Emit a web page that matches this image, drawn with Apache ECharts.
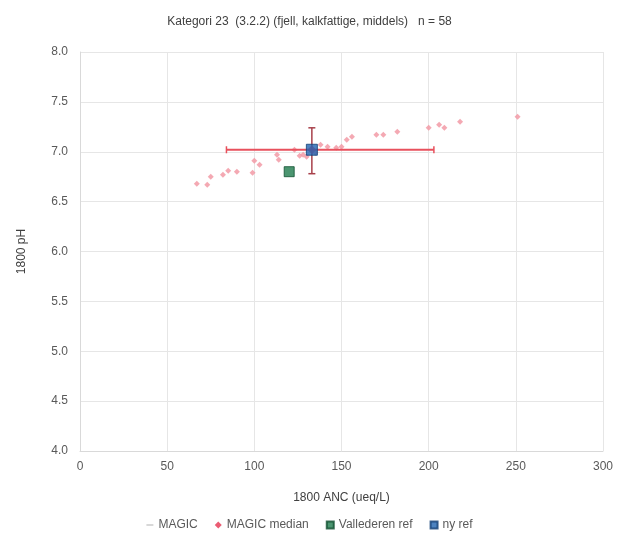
<!DOCTYPE html>
<html>
<head>
<meta charset="utf-8">
<script src="https://cdn.jsdelivr.net/npm/echarts@6/dist/echarts.min.js"></script>
<style>
    html, body { margin: 0; padding: 0; background: #fff; }
    #chart { width: 619px; height: 541px; }
</style>
</head>
<body>
<div id="chart"></div>
<script>
// MAGIC-punkter (ANC, pH)
var magicPoints = [
    [67, 6.68], [73, 6.67], [75, 6.75], [82, 6.77], [85, 6.81], [90, 6.80],
    [99, 6.79], [100, 6.91], [103, 6.87], [113, 6.97], [114, 6.92], [123, 7.02],
    [126, 6.96], [128, 6.97], [130, 6.95], [135, 6.99], [138, 7.07], [142, 7.05],
    [147, 7.04], [150, 7.05], [153, 7.12], [156, 7.15], [170, 7.17], [174, 7.17],
    [182, 7.20], [200, 7.24], [206, 7.27], [209, 7.24], [218, 7.30], [251, 7.35]
];
var magicMedian = [[133, 7.02]];
var medianAncRange = [84, 203];   // horisontal feilstolpe
var medianPhRange = [6.78, 7.24]; // vertikal feilstolpe
var vallederenRef = [[120, 6.80]];
var nyRef = [[133, 7.02]];

var chart = echarts.init(document.getElementById('chart'));

var option = {
    animation: false,
    textStyle: { fontFamily: 'Liberation Sans, Arial, sans-serif' },
    title: {
        text: 'Kategori 23  (3.2.2) (fjell, kalkfattige, middels)   n = 58',
        left: 'center',
        top: 11,
        textStyle: { fontSize: 12, fontWeight: 'normal', color: '#404040' }
    },
    legend: {
        bottom: 5,
        left: 'center',
        itemWidth: 7,
        itemHeight: 7,
        itemGap: 17,
        textStyle: { fontSize: 12, color: '#595959' },
        data: [
            { name: 'MAGIC', icon: 'path://M0,4h10v2h-10z', itemStyle: { color: '#c8c8c8' } },
            { name: 'MAGIC median', icon: 'diamond', itemStyle: { color: '#e8405a' } },
            { name: 'Vallederen ref', icon: 'rect' },
            { name: 'ny ref', icon: 'rect' }
        ]
    },
    grid: { left: 80, right: 16, top: 52, bottom: 90 },
    xAxis: {
        type: 'value',
        min: 0,
        max: 300,
        interval: 50,
        name: '1800 ANC (ueq/L)',
        nameLocation: 'middle',
        nameGap: 41,
        nameTextStyle: { fontSize: 12, color: '#404040' },
        axisLine: { show: true, lineStyle: { color: '#d9d9d9' } },
        axisTick: { show: false },
        axisLabel: { fontSize: 12, color: '#595959', margin: 10 },
        splitLine: { show: true, lineStyle: { color: '#e6e6e6' } }
    },
    yAxis: {
        type: 'value',
        min: 4,
        max: 8,
        interval: 0.5,
        name: '1800 pH',
        nameLocation: 'middle',
        nameGap: 52,
        nameTextStyle: { fontSize: 12, color: '#404040' },
        axisLine: { show: true, lineStyle: { color: '#d9d9d9' } },
        axisTick: { show: false },
        axisLabel: {
            fontSize: 12, color: '#595959', margin: 12,
            formatter: function (v) { return v.toFixed(1); }
        },
        splitLine: { show: true, lineStyle: { color: '#e6e6e6' } }
    },
    series: [
        {
            name: 'MAGIC median',
            type: 'scatter',
            data: magicPoints,
            symbol: 'diamond',
            symbolSize: 6,
            itemStyle: { color: '#f29aa6', opacity: 0.85 },
            z: 2
        },
        {
            name: 'MAGIC',
            type: 'line',
            data: [[medianAncRange[0], magicMedian[0][1]], [medianAncRange[1], magicMedian[0][1]]],
            symbol: 'rect',
            symbolSize: [1.5, 7],
            showSymbol: true,
            lineStyle: { color: '#e8505c', width: 2 },
            itemStyle: { color: '#e8505c' },
            z: 3
        },
        {
            name: 'MAGIC',
            type: 'line',
            data: [[magicMedian[0][0], medianPhRange[0]], [magicMedian[0][0], medianPhRange[1]]],
            symbol: 'rect',
            symbolSize: [7, 1.5],
            lineStyle: { color: '#a8404a', width: 1.5 },
            itemStyle: { color: '#a8404a' },
            z: 3
        },
        {
            name: 'MAGIC median',
            type: 'scatter',
            data: magicMedian,
            symbol: 'diamond',
            symbolSize: 9,
            itemStyle: { color: '#e8405a' },
            z: 4
        },
        {
            name: 'Vallederen ref',
            type: 'scatter',
            data: vallederenRef,
            symbol: 'rect',
            symbolSize: 10,
            itemStyle: { color: '#1e7a4c', borderColor: '#0f4f30', borderWidth: 1 },
            z: 5
        },
        {
            name: 'ny ref',
            type: 'scatter',
            data: nyRef,
            symbol: 'rect',
            symbolSize: 11,
            itemStyle: { color: '#1f63b0', borderColor: '#123f75', borderWidth: 1 },
            z: 5
        }
    ]
};

chart.setOption(option);
</script>
</body>
</html>
